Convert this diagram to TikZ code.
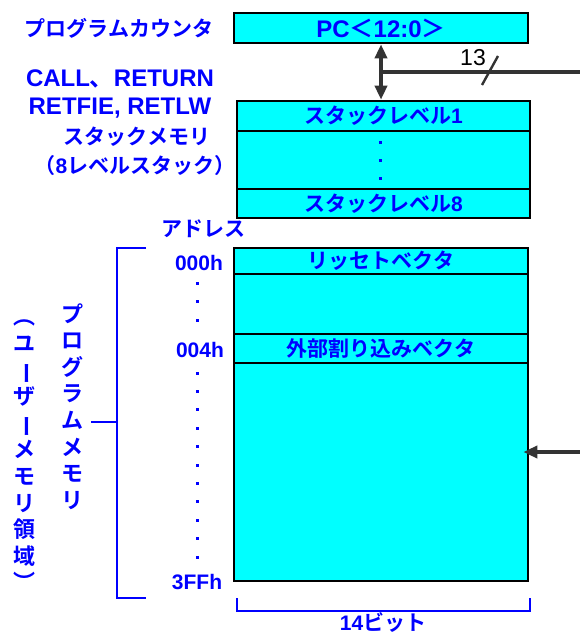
\documentclass[tikz,border=0pt]{standalone}
\usepackage{fontspec}
\setmainfont{Liberation Sans}
\newfontfamily\jp{Noto Sans CJK JP}[BoldFont={Noto Sans CJK JP Bold}]
\usetikzlibrary{arrows.meta}
\definecolor{conncol}{RGB}{51,51,51}
\definecolor{boxcyan}{RGB}{0,255,255}
\definecolor{txtblue}{RGB}{0,0,255}
\newcommand\lblfont{\bfseries\fontsize{21}{25}\selectfont}
\newcommand\lblLfont{\bfseries\fontsize{24}{28}\selectfont}
\newcommand\vlblfont{\jp\bfseries\fontsize{22}{26.6}\selectfont}
\newcommand\vbar{\rotatebox[origin=c]{-90}{ー}}
\begin{document}
\begin{tikzpicture}[x=1pt,y=-1pt,
  mbox/.style={draw=black,line width=2.6pt,fill=boxcyan,inner sep=0pt,text=txtblue,font=\lblfont},
  lbl/.style={text=txtblue,font=\lblfont,inner sep=0pt},
  conn/.style={draw=conncol,line width=4.8pt},
  tip/.style={-{Triangle[length=14pt,width=12pt]}},
  brk/.style={draw=txtblue,line width=2.4pt},
  dotm/.style={fill=txtblue}
]
\useasboundingbox (0,0) rectangle (580,634);

% program counter
\node[mbox,font=\lblLfont,minimum width=294pt,minimum height=30pt] (pc) at (381,28) {PC{\jp ＜}12:0{\jp ＞}};

% stack
\node[mbox,minimum width=293pt,minimum height=30pt] (s1) at (383.5,116) {{\jp スタックレベル}1};
\node[mbox,minimum width=293pt,minimum height=58pt] (smid) at (383.5,160) {};
\node[mbox,minimum width=293pt,minimum height=29pt] (s8) at (383.5,203.5) {{\jp スタックレベル}8};
\foreach \yy in {142,160,178} \fill[dotm] (378.5,\yy-1.5) rectangle ++(3,3);

% program memory
\node[mbox,minimum width=294pt,minimum height=26pt] (rv) at (381,261) {\jp リッセトベクタ};
\node[mbox,minimum width=294pt,minimum height=60pt] (pblank) at (381,304) {};
\node[mbox,minimum width=294pt,minimum height=29pt] (ev) at (381,348.5) {\jp 外部割り込みベクタ};
\node[mbox,minimum width=294pt,minimum height=218pt] (pmain) at (381,472) {};

% left labels
\node[lbl] (lpc) at (119,28) {\jp プログラムカウンタ};
\node[lbl,font=\lblLfont] (call) at (120,79) {CALL{\jp 、}RETURN};
\node[lbl,font=\lblLfont] (retf) at (120,108) {RETFIE, RETLW};
\node[lbl] (smem) at (137,137) {\jp スタックメモリ};
\node[lbl] (slvl) at (135,166) {{\jp （}8{\jp レベルスタック）}};
\node[lbl] (addr) at (203,229) {\jp アドレス};
\node[lbl] (a000) at (199,263) {000h};
\node[lbl] (a004) at (200,350) {004h};
\node[lbl] (a3ff) at (197,582) {3FFh};
\foreach \yy in {283,301.5,320} \fill[dotm] (196,\yy-1.5) rectangle ++(3,3);
\foreach \i in {0,...,10} \fill[dotm] (196,373+18.4*\i-1.5) rectangle ++(3,3);

\node[lbl,align=center,font=\vlblfont] (pmemv) at (72,406.5) {プ\\ロ\\グ\\ラ\\ム\\メ\\モ\\リ};
\node[lbl,align=center,font=\vlblfont] (umemv) at (24,455.5) {︵\\ユ\\\vbar\\ザ\\\vbar\\メ\\モ\\リ\\領\\域\\︶};

\node[lbl] (bits) at (383,622) {14{\jp ビット}};

% brackets
\draw[brk] (146,248) -- (117,248) -- (117,598) -- (146,598);
\draw[brk] (91,422) -- (117,422);
\draw[brk] (237,598) -- (237,611) -- (530,611) -- (530,598);

% connectors
\coordinate (busR) at (580,72);
\coordinate (inR) at (580,452);
\draw[conn,{Triangle[length=14pt,width=12pt]}-{Triangle[length=14pt,width=12pt]}] (pc.south) -- (pc.south |- s1.north);
\draw[conn] (pc.south |- busR) -- (busR);
\draw[draw=conncol,line width=2.4pt] (482,85) -- (498,56);
\node[inner sep=0pt,font=\fontsize{23}{27}\selectfont] (w13) at (473,58) {13};
\draw[conn,tip] (inR) -- ([xshift=-6pt]pmain.east |- inR);
\end{tikzpicture}
\end{document}
